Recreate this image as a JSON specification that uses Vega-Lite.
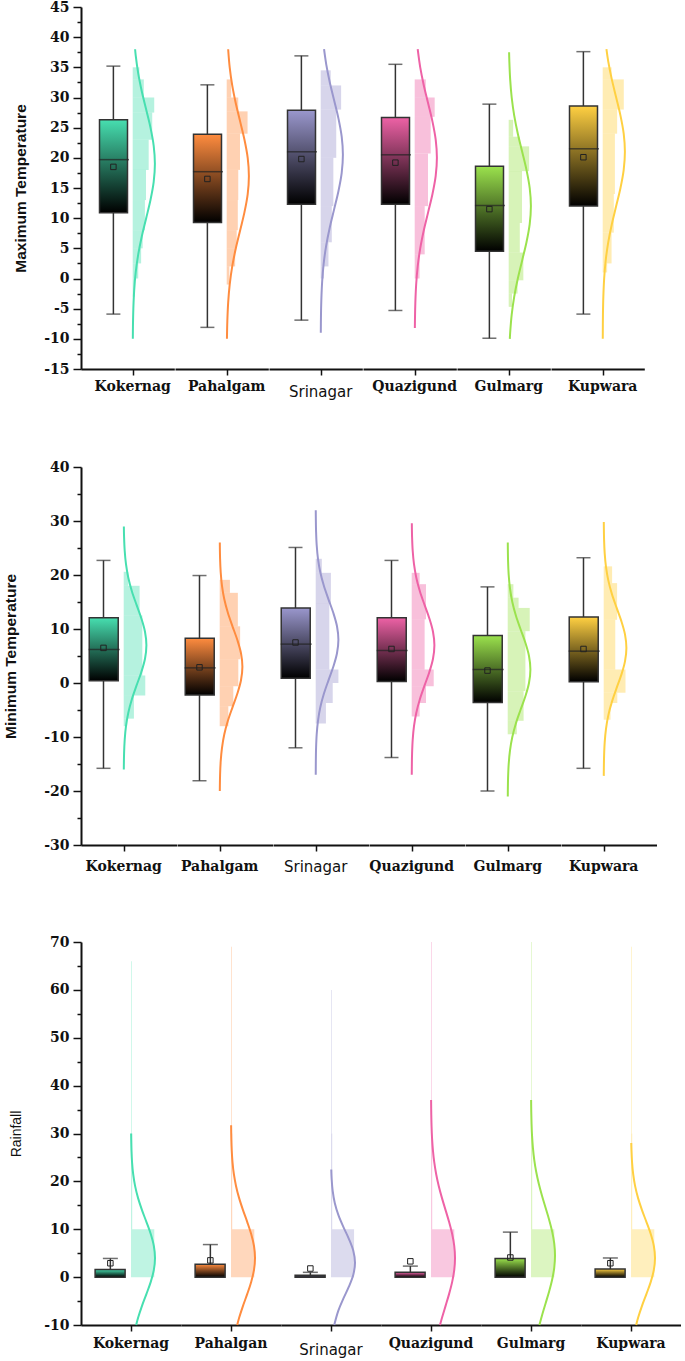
{
"$schema": "https://vega.github.io/schema/vega-lite/v6.json",
"padding": {"left": 3, "top": 0, "right": 0, "bottom": 0},
"background": "white",
"config": {
  "view": {"stroke": null},
  "axis": {"grid": false, "domainColor": "#111111", "domainWidth": 2, "tickColor": "#111111", "tickWidth": 1.5, "labelFont": "DejaVu Serif", "labelFontWeight": "bold", "labelFontSize": 14, "labelColor": "#111111", "titleColor": "#111111", "titleFont": "Liberation Sans", "titleFontWeight": "bold", "titleFontSize": 15.5, "labelPadding": 4, "tickSize": 8, "labelOverlap": false}
},
"datasets": {
"p1": [
{"station":"Kokernag","kind":"box","label":"Kokernag","lo":-5.9,"q1":10.9,"med":19.7,"q3":26.3,"hi":35.2,"mean":18.5},
{"station":"Pahalgam","kind":"box","label":"Pahalgam","lo":-8.1,"q1":9.3,"med":17.7,"q3":23.9,"hi":32.1,"mean":16.5},
{"station":"Srinagar","kind":"box","label":"Srinagar","lo":-6.9,"q1":12.3,"med":21.0,"q3":27.9,"hi":36.9,"mean":19.8},
{"station":"Quazigund","kind":"box","label":"Quazigund","lo":-5.3,"q1":12.3,"med":20.5,"q3":26.7,"hi":35.5,"mean":19.2},
{"station":"Gulmarg","kind":"box","label":"Gulmarg","lo":-9.9,"q1":4.5,"med":12.1,"q3":18.6,"hi":28.9,"mean":11.5},
{"station":"Kupwara","kind":"box","label":"Kupwara","lo":-5.9,"q1":12.0,"med":21.5,"q3":28.6,"hi":37.6,"mean":20.1},
{"station":"Kokernag","kind":"bin","y0":-3,"y1":0,"w":0.1},
{"station":"Kokernag","kind":"bin","y0":0,"y1":2.5,"w":0.25},
{"station":"Kokernag","kind":"bin","y0":2.5,"y1":5,"w":0.38},
{"station":"Kokernag","kind":"bin","y0":5,"y1":8,"w":0.45},
{"station":"Kokernag","kind":"bin","y0":8,"y1":13,"w":0.55},
{"station":"Kokernag","kind":"bin","y0":13,"y1":18,"w":0.6},
{"station":"Kokernag","kind":"bin","y0":18,"y1":23,"w":0.72},
{"station":"Kokernag","kind":"bin","y0":23,"y1":27.5,"w":0.88},
{"station":"Kokernag","kind":"bin","y0":27.5,"y1":30,"w":0.97},
{"station":"Kokernag","kind":"bin","y0":30,"y1":33,"w":0.5},
{"station":"Kokernag","kind":"bin","y0":33,"y1":35,"w":0.3},
{"station":"Pahalgam","kind":"bin","y0":-1,"y1":2,"w":0.12},
{"station":"Pahalgam","kind":"bin","y0":2,"y1":5,"w":0.38},
{"station":"Pahalgam","kind":"bin","y0":5,"y1":8,"w":0.45},
{"station":"Pahalgam","kind":"bin","y0":8,"y1":13,"w":0.5},
{"station":"Pahalgam","kind":"bin","y0":13,"y1":18,"w":0.52},
{"station":"Pahalgam","kind":"bin","y0":18,"y1":24,"w":0.6},
{"station":"Pahalgam","kind":"bin","y0":24,"y1":27.7,"w":0.94},
{"station":"Pahalgam","kind":"bin","y0":27.7,"y1":30,"w":0.52},
{"station":"Pahalgam","kind":"bin","y0":30,"y1":33,"w":0.2},
{"station":"Srinagar","kind":"bin","y0":0,"y1":2,"w":0.15},
{"station":"Srinagar","kind":"bin","y0":2,"y1":6,"w":0.35},
{"station":"Srinagar","kind":"bin","y0":6,"y1":12,"w":0.5},
{"station":"Srinagar","kind":"bin","y0":12,"y1":20,"w":0.57},
{"station":"Srinagar","kind":"bin","y0":20,"y1":28,"w":0.7},
{"station":"Srinagar","kind":"bin","y0":28,"y1":32,"w":0.92},
{"station":"Srinagar","kind":"bin","y0":32,"y1":34.5,"w":0.45},
{"station":"Quazigund","kind":"bin","y0":0,"y1":4,"w":0.22},
{"station":"Quazigund","kind":"bin","y0":4,"y1":12,"w":0.45},
{"station":"Quazigund","kind":"bin","y0":12,"y1":20.7,"w":0.6},
{"station":"Quazigund","kind":"bin","y0":20.7,"y1":26.8,"w":0.72},
{"station":"Quazigund","kind":"bin","y0":26.8,"y1":30,"w":0.9},
{"station":"Quazigund","kind":"bin","y0":30,"y1":33,"w":0.5},
{"station":"Gulmarg","kind":"bin","y0":-4.7,"y1":-2.5,"w":0.15},
{"station":"Gulmarg","kind":"bin","y0":-2.5,"y1":-0.3,"w":0.4},
{"station":"Gulmarg","kind":"bin","y0":-0.3,"y1":4.3,"w":0.66},
{"station":"Gulmarg","kind":"bin","y0":4.3,"y1":9.2,"w":0.5},
{"station":"Gulmarg","kind":"bin","y0":9.2,"y1":17.8,"w":0.6},
{"station":"Gulmarg","kind":"bin","y0":17.8,"y1":21.9,"w":0.92},
{"station":"Gulmarg","kind":"bin","y0":21.9,"y1":23.5,"w":0.5},
{"station":"Gulmarg","kind":"bin","y0":23.5,"y1":26.3,"w":0.2},
{"station":"Kupwara","kind":"bin","y0":1,"y1":2.5,"w":0.2},
{"station":"Kupwara","kind":"bin","y0":2.5,"y1":7.6,"w":0.4},
{"station":"Kupwara","kind":"bin","y0":7.6,"y1":14,"w":0.5},
{"station":"Kupwara","kind":"bin","y0":14,"y1":24,"w":0.55},
{"station":"Kupwara","kind":"bin","y0":24,"y1":28,"w":0.65},
{"station":"Kupwara","kind":"bin","y0":28,"y1":33,"w":0.95},
{"station":"Kupwara","kind":"bin","y0":33,"y1":35,"w":0.4},
{"station":"Kokernag","kind":"curve","v":38,"d":0.108},
{"station":"Kokernag","kind":"curve","v":37,"d":0.135},
{"station":"Kokernag","kind":"curve","v":34,"d":0.249},
{"station":"Kokernag","kind":"curve","v":31,"d":0.411},
{"station":"Kokernag","kind":"curve","v":28,"d":0.607},
{"station":"Kokernag","kind":"curve","v":25,"d":0.801},
{"station":"Kokernag","kind":"curve","v":22,"d":0.946},
{"station":"Kokernag","kind":"curve","v":19,"d":1},
{"station":"Kokernag","kind":"curve","v":16,"d":0.946},
{"station":"Kokernag","kind":"curve","v":13,"d":0.801},
{"station":"Kokernag","kind":"curve","v":10,"d":0.607},
{"station":"Kokernag","kind":"curve","v":7,"d":0.411},
{"station":"Kokernag","kind":"curve","v":4,"d":0.249},
{"station":"Kokernag","kind":"curve","v":1,"d":0.135},
{"station":"Kokernag","kind":"curve","v":-2,"d":0.066},
{"station":"Kokernag","kind":"curve","v":-5,"d":0.029},
{"station":"Kokernag","kind":"curve","v":-8,"d":0.011},
{"station":"Kokernag","kind":"curve","v":-10,"d":0.006},
{"station":"Pahalgam","kind":"curve","v":38,"d":0.066},
{"station":"Pahalgam","kind":"curve","v":35,"d":0.135},
{"station":"Pahalgam","kind":"curve","v":32,"d":0.249},
{"station":"Pahalgam","kind":"curve","v":29,"d":0.411},
{"station":"Pahalgam","kind":"curve","v":26,"d":0.607},
{"station":"Pahalgam","kind":"curve","v":23,"d":0.801},
{"station":"Pahalgam","kind":"curve","v":20,"d":0.946},
{"station":"Pahalgam","kind":"curve","v":17,"d":1},
{"station":"Pahalgam","kind":"curve","v":14,"d":0.946},
{"station":"Pahalgam","kind":"curve","v":11,"d":0.801},
{"station":"Pahalgam","kind":"curve","v":8,"d":0.607},
{"station":"Pahalgam","kind":"curve","v":5,"d":0.411},
{"station":"Pahalgam","kind":"curve","v":2,"d":0.249},
{"station":"Pahalgam","kind":"curve","v":-1,"d":0.135},
{"station":"Pahalgam","kind":"curve","v":-4,"d":0.066},
{"station":"Pahalgam","kind":"curve","v":-7,"d":0.029},
{"station":"Pahalgam","kind":"curve","v":-10,"d":0.011},
{"station":"Srinagar","kind":"curve","v":38,"d":0.151},
{"station":"Srinagar","kind":"curve","v":35.5,"d":0.249},
{"station":"Srinagar","kind":"curve","v":32.5,"d":0.411},
{"station":"Srinagar","kind":"curve","v":29.5,"d":0.607},
{"station":"Srinagar","kind":"curve","v":26.5,"d":0.801},
{"station":"Srinagar","kind":"curve","v":23.5,"d":0.946},
{"station":"Srinagar","kind":"curve","v":20.5,"d":1},
{"station":"Srinagar","kind":"curve","v":17.5,"d":0.946},
{"station":"Srinagar","kind":"curve","v":14.5,"d":0.801},
{"station":"Srinagar","kind":"curve","v":11.5,"d":0.607},
{"station":"Srinagar","kind":"curve","v":8.5,"d":0.411},
{"station":"Srinagar","kind":"curve","v":5.5,"d":0.249},
{"station":"Srinagar","kind":"curve","v":2.5,"d":0.135},
{"station":"Srinagar","kind":"curve","v":-0.5,"d":0.066},
{"station":"Srinagar","kind":"curve","v":-3.5,"d":0.029},
{"station":"Srinagar","kind":"curve","v":-6.5,"d":0.011},
{"station":"Srinagar","kind":"curve","v":-9,"d":0.005},
{"station":"Quazigund","kind":"curve","v":38,"d":0.135},
{"station":"Quazigund","kind":"curve","v":35,"d":0.249},
{"station":"Quazigund","kind":"curve","v":32,"d":0.411},
{"station":"Quazigund","kind":"curve","v":29,"d":0.607},
{"station":"Quazigund","kind":"curve","v":26,"d":0.801},
{"station":"Quazigund","kind":"curve","v":23,"d":0.946},
{"station":"Quazigund","kind":"curve","v":20,"d":1},
{"station":"Quazigund","kind":"curve","v":17,"d":0.946},
{"station":"Quazigund","kind":"curve","v":14,"d":0.801},
{"station":"Quazigund","kind":"curve","v":11,"d":0.607},
{"station":"Quazigund","kind":"curve","v":8,"d":0.411},
{"station":"Quazigund","kind":"curve","v":5,"d":0.249},
{"station":"Quazigund","kind":"curve","v":2,"d":0.135},
{"station":"Quazigund","kind":"curve","v":-1,"d":0.066},
{"station":"Quazigund","kind":"curve","v":-4,"d":0.029},
{"station":"Quazigund","kind":"curve","v":-7,"d":0.011},
{"station":"Quazigund","kind":"curve","v":-8.2,"d":0.007},
{"station":"Gulmarg","kind":"curve","v":37.5,"d":0.018},
{"station":"Gulmarg","kind":"curve","v":36,"d":0.029},
{"station":"Gulmarg","kind":"curve","v":33,"d":0.066},
{"station":"Gulmarg","kind":"curve","v":30,"d":0.135},
{"station":"Gulmarg","kind":"curve","v":27,"d":0.249},
{"station":"Gulmarg","kind":"curve","v":24,"d":0.411},
{"station":"Gulmarg","kind":"curve","v":21,"d":0.607},
{"station":"Gulmarg","kind":"curve","v":18,"d":0.801},
{"station":"Gulmarg","kind":"curve","v":15,"d":0.946},
{"station":"Gulmarg","kind":"curve","v":12,"d":1},
{"station":"Gulmarg","kind":"curve","v":9,"d":0.946},
{"station":"Gulmarg","kind":"curve","v":6,"d":0.801},
{"station":"Gulmarg","kind":"curve","v":3,"d":0.607},
{"station":"Gulmarg","kind":"curve","v":0,"d":0.411},
{"station":"Gulmarg","kind":"curve","v":-3,"d":0.249},
{"station":"Gulmarg","kind":"curve","v":-6,"d":0.135},
{"station":"Gulmarg","kind":"curve","v":-9,"d":0.066},
{"station":"Gulmarg","kind":"curve","v":-10,"d":0.05},
{"station":"Kupwara","kind":"curve","v":38,"d":0.168},
{"station":"Kupwara","kind":"curve","v":36,"d":0.249},
{"station":"Kupwara","kind":"curve","v":33,"d":0.411},
{"station":"Kupwara","kind":"curve","v":30,"d":0.607},
{"station":"Kupwara","kind":"curve","v":27,"d":0.801},
{"station":"Kupwara","kind":"curve","v":24,"d":0.946},
{"station":"Kupwara","kind":"curve","v":21,"d":1},
{"station":"Kupwara","kind":"curve","v":18,"d":0.946},
{"station":"Kupwara","kind":"curve","v":15,"d":0.801},
{"station":"Kupwara","kind":"curve","v":12,"d":0.607},
{"station":"Kupwara","kind":"curve","v":9,"d":0.411},
{"station":"Kupwara","kind":"curve","v":6,"d":0.249},
{"station":"Kupwara","kind":"curve","v":3,"d":0.135},
{"station":"Kupwara","kind":"curve","v":0,"d":0.066},
{"station":"Kupwara","kind":"curve","v":-3,"d":0.029},
{"station":"Kupwara","kind":"curve","v":-6,"d":0.011},
{"station":"Kupwara","kind":"curve","v":-10,"d":0.003}
],
"p2": [
{"station":"Kokernag","kind":"box","label":"Kokernag","lo":-15.8,"q1":0.4,"med":6.2,"q3":12.1,"hi":22.7,"mean":6.5},
{"station":"Pahalgam","kind":"box","label":"Pahalgam","lo":-18.1,"q1":-2.2,"med":2.8,"q3":8.3,"hi":19.9,"mean":2.9},
{"station":"Srinagar","kind":"box","label":"Srinagar","lo":-12,"q1":0.9,"med":7.2,"q3":13.9,"hi":25.1,"mean":7.5},
{"station":"Quazigund","kind":"box","label":"Quazigund","lo":-13.8,"q1":0.3,"med":6.0,"q3":12.1,"hi":22.7,"mean":6.3},
{"station":"Gulmarg","kind":"box","label":"Gulmarg","lo":-20,"q1":-3.6,"med":2.5,"q3":8.8,"hi":17.8,"mean":2.3},
{"station":"Kupwara","kind":"box","label":"Kupwara","lo":-15.8,"q1":0.25,"med":5.9,"q3":12.2,"hi":23.2,"mean":6.3},
{"station":"Kokernag","kind":"bin","y0":-8,"y1":-6.6,"w":0.15},
{"station":"Kokernag","kind":"bin","y0":-6.6,"y1":-2.3,"w":0.45},
{"station":"Kokernag","kind":"bin","y0":-2.3,"y1":1.4,"w":0.95},
{"station":"Kokernag","kind":"bin","y0":1.4,"y1":12.5,"w":0.82},
{"station":"Kokernag","kind":"bin","y0":12.5,"y1":18,"w":0.7},
{"station":"Kokernag","kind":"bin","y0":18,"y1":20.6,"w":0.2},
{"station":"Pahalgam","kind":"bin","y0":-8,"y1":-4.3,"w":0.38},
{"station":"Pahalgam","kind":"bin","y0":-4.3,"y1":-0.6,"w":0.6},
{"station":"Pahalgam","kind":"bin","y0":-0.6,"y1":4.4,"w":0.82},
{"station":"Pahalgam","kind":"bin","y0":4.4,"y1":10.5,"w":0.9},
{"station":"Pahalgam","kind":"bin","y0":10.5,"y1":16.7,"w":0.8},
{"station":"Pahalgam","kind":"bin","y0":16.7,"y1":19.1,"w":0.45},
{"station":"Srinagar","kind":"bin","y0":-7.5,"y1":-3.7,"w":0.45},
{"station":"Srinagar","kind":"bin","y0":-3.7,"y1":0,"w":0.75},
{"station":"Srinagar","kind":"bin","y0":0,"y1":2.5,"w":1.0},
{"station":"Srinagar","kind":"bin","y0":2.5,"y1":14.8,"w":0.6},
{"station":"Srinagar","kind":"bin","y0":14.8,"y1":20.4,"w":0.67},
{"station":"Srinagar","kind":"bin","y0":20.4,"y1":23,"w":0.27},
{"station":"Quazigund","kind":"bin","y0":-6.2,"y1":-3.7,"w":0.35},
{"station":"Quazigund","kind":"bin","y0":-3.7,"y1":-0.6,"w":0.63},
{"station":"Quazigund","kind":"bin","y0":-0.6,"y1":2.5,"w":0.97},
{"station":"Quazigund","kind":"bin","y0":2.5,"y1":11.8,"w":0.57},
{"station":"Quazigund","kind":"bin","y0":11.8,"y1":18.3,"w":0.63},
{"station":"Quazigund","kind":"bin","y0":18.3,"y1":20.4,"w":0.35},
{"station":"Gulmarg","kind":"bin","y0":-9.5,"y1":-7,"w":0.4},
{"station":"Gulmarg","kind":"bin","y0":-7,"y1":-1.5,"w":0.7},
{"station":"Gulmarg","kind":"bin","y0":-1.5,"y1":9.6,"w":0.78},
{"station":"Gulmarg","kind":"bin","y0":9.6,"y1":13.9,"w":0.97},
{"station":"Gulmarg","kind":"bin","y0":13.9,"y1":15.8,"w":0.48},
{"station":"Gulmarg","kind":"bin","y0":15.8,"y1":18.3,"w":0.25},
{"station":"Kupwara","kind":"bin","y0":-6.8,"y1":-3.7,"w":0.3},
{"station":"Kupwara","kind":"bin","y0":-3.7,"y1":-1.8,"w":0.6},
{"station":"Kupwara","kind":"bin","y0":-1.8,"y1":2.5,"w":0.96},
{"station":"Kupwara","kind":"bin","y0":2.5,"y1":11.7,"w":0.51},
{"station":"Kupwara","kind":"bin","y0":11.7,"y1":18.5,"w":0.59},
{"station":"Kupwara","kind":"bin","y0":18.5,"y1":21.6,"w":0.37},
{"station":"Kokernag","kind":"curve","v":29,"d":0.007},
{"station":"Kokernag","kind":"curve","v":27,"d":0.017},
{"station":"Kokernag","kind":"curve","v":24.5,"d":0.044},
{"station":"Kokernag","kind":"curve","v":22,"d":0.101},
{"station":"Kokernag","kind":"curve","v":19.5,"d":0.203},
{"station":"Kokernag","kind":"curve","v":17,"d":0.36},
{"station":"Kokernag","kind":"curve","v":14.5,"d":0.563},
{"station":"Kokernag","kind":"curve","v":12,"d":0.775},
{"station":"Kokernag","kind":"curve","v":9.5,"d":0.938},
{"station":"Kokernag","kind":"curve","v":7,"d":1},
{"station":"Kokernag","kind":"curve","v":4.5,"d":0.938},
{"station":"Kokernag","kind":"curve","v":2,"d":0.775},
{"station":"Kokernag","kind":"curve","v":-0.5,"d":0.563},
{"station":"Kokernag","kind":"curve","v":-3,"d":0.36},
{"station":"Kokernag","kind":"curve","v":-5.5,"d":0.203},
{"station":"Kokernag","kind":"curve","v":-8,"d":0.101},
{"station":"Kokernag","kind":"curve","v":-10.5,"d":0.044},
{"station":"Kokernag","kind":"curve","v":-13,"d":0.017},
{"station":"Kokernag","kind":"curve","v":-16,"d":0.005},
{"station":"Pahalgam","kind":"curve","v":26,"d":0.005},
{"station":"Pahalgam","kind":"curve","v":23,"d":0.017},
{"station":"Pahalgam","kind":"curve","v":20.5,"d":0.044},
{"station":"Pahalgam","kind":"curve","v":18,"d":0.101},
{"station":"Pahalgam","kind":"curve","v":15.5,"d":0.203},
{"station":"Pahalgam","kind":"curve","v":13,"d":0.36},
{"station":"Pahalgam","kind":"curve","v":10.5,"d":0.563},
{"station":"Pahalgam","kind":"curve","v":8,"d":0.775},
{"station":"Pahalgam","kind":"curve","v":5.5,"d":0.938},
{"station":"Pahalgam","kind":"curve","v":3,"d":1},
{"station":"Pahalgam","kind":"curve","v":0.5,"d":0.938},
{"station":"Pahalgam","kind":"curve","v":-2,"d":0.775},
{"station":"Pahalgam","kind":"curve","v":-4.5,"d":0.563},
{"station":"Pahalgam","kind":"curve","v":-7,"d":0.36},
{"station":"Pahalgam","kind":"curve","v":-9.5,"d":0.203},
{"station":"Pahalgam","kind":"curve","v":-12,"d":0.101},
{"station":"Pahalgam","kind":"curve","v":-14.5,"d":0.044},
{"station":"Pahalgam","kind":"curve","v":-17,"d":0.017},
{"station":"Pahalgam","kind":"curve","v":-20,"d":0.005},
{"station":"Srinagar","kind":"curve","v":32,"d":0.003},
{"station":"Srinagar","kind":"curve","v":30.5,"d":0.006},
{"station":"Srinagar","kind":"curve","v":28,"d":0.017},
{"station":"Srinagar","kind":"curve","v":25.5,"d":0.044},
{"station":"Srinagar","kind":"curve","v":23,"d":0.101},
{"station":"Srinagar","kind":"curve","v":20.5,"d":0.203},
{"station":"Srinagar","kind":"curve","v":18,"d":0.36},
{"station":"Srinagar","kind":"curve","v":15.5,"d":0.563},
{"station":"Srinagar","kind":"curve","v":13,"d":0.775},
{"station":"Srinagar","kind":"curve","v":10.5,"d":0.938},
{"station":"Srinagar","kind":"curve","v":8,"d":1},
{"station":"Srinagar","kind":"curve","v":5.5,"d":0.938},
{"station":"Srinagar","kind":"curve","v":3,"d":0.775},
{"station":"Srinagar","kind":"curve","v":0.5,"d":0.563},
{"station":"Srinagar","kind":"curve","v":-2,"d":0.36},
{"station":"Srinagar","kind":"curve","v":-4.5,"d":0.203},
{"station":"Srinagar","kind":"curve","v":-7,"d":0.101},
{"station":"Srinagar","kind":"curve","v":-9.5,"d":0.044},
{"station":"Srinagar","kind":"curve","v":-12,"d":0.017},
{"station":"Srinagar","kind":"curve","v":-14.5,"d":0.006},
{"station":"Srinagar","kind":"curve","v":-17,"d":0.002},
{"station":"Quazigund","kind":"curve","v":29.6,"d":0.006},
{"station":"Quazigund","kind":"curve","v":27,"d":0.017},
{"station":"Quazigund","kind":"curve","v":24.5,"d":0.044},
{"station":"Quazigund","kind":"curve","v":22,"d":0.101},
{"station":"Quazigund","kind":"curve","v":19.5,"d":0.203},
{"station":"Quazigund","kind":"curve","v":17,"d":0.36},
{"station":"Quazigund","kind":"curve","v":14.5,"d":0.563},
{"station":"Quazigund","kind":"curve","v":12,"d":0.775},
{"station":"Quazigund","kind":"curve","v":9.5,"d":0.938},
{"station":"Quazigund","kind":"curve","v":7,"d":1},
{"station":"Quazigund","kind":"curve","v":4.5,"d":0.938},
{"station":"Quazigund","kind":"curve","v":2,"d":0.775},
{"station":"Quazigund","kind":"curve","v":-0.5,"d":0.563},
{"station":"Quazigund","kind":"curve","v":-3,"d":0.36},
{"station":"Quazigund","kind":"curve","v":-5.5,"d":0.203},
{"station":"Quazigund","kind":"curve","v":-8,"d":0.101},
{"station":"Quazigund","kind":"curve","v":-10.5,"d":0.044},
{"station":"Quazigund","kind":"curve","v":-13,"d":0.017},
{"station":"Quazigund","kind":"curve","v":-15.5,"d":0.006},
{"station":"Quazigund","kind":"curve","v":-17,"d":0.003},
{"station":"Gulmarg","kind":"curve","v":26,"d":0.004},
{"station":"Gulmarg","kind":"curve","v":25,"d":0.006},
{"station":"Gulmarg","kind":"curve","v":22.5,"d":0.017},
{"station":"Gulmarg","kind":"curve","v":20,"d":0.044},
{"station":"Gulmarg","kind":"curve","v":17.5,"d":0.101},
{"station":"Gulmarg","kind":"curve","v":15,"d":0.203},
{"station":"Gulmarg","kind":"curve","v":12.5,"d":0.36},
{"station":"Gulmarg","kind":"curve","v":10,"d":0.563},
{"station":"Gulmarg","kind":"curve","v":7.5,"d":0.775},
{"station":"Gulmarg","kind":"curve","v":5,"d":0.938},
{"station":"Gulmarg","kind":"curve","v":2.5,"d":1},
{"station":"Gulmarg","kind":"curve","v":0,"d":0.938},
{"station":"Gulmarg","kind":"curve","v":-2.5,"d":0.775},
{"station":"Gulmarg","kind":"curve","v":-5,"d":0.563},
{"station":"Gulmarg","kind":"curve","v":-7.5,"d":0.36},
{"station":"Gulmarg","kind":"curve","v":-10,"d":0.203},
{"station":"Gulmarg","kind":"curve","v":-12.5,"d":0.101},
{"station":"Gulmarg","kind":"curve","v":-15,"d":0.044},
{"station":"Gulmarg","kind":"curve","v":-17.5,"d":0.017},
{"station":"Gulmarg","kind":"curve","v":-20,"d":0.006},
{"station":"Gulmarg","kind":"curve","v":-21,"d":0.004},
{"station":"Kupwara","kind":"curve","v":29.8,"d":0.004},
{"station":"Kupwara","kind":"curve","v":26.5,"d":0.017},
{"station":"Kupwara","kind":"curve","v":24,"d":0.044},
{"station":"Kupwara","kind":"curve","v":21.5,"d":0.101},
{"station":"Kupwara","kind":"curve","v":19,"d":0.203},
{"station":"Kupwara","kind":"curve","v":16.5,"d":0.36},
{"station":"Kupwara","kind":"curve","v":14,"d":0.563},
{"station":"Kupwara","kind":"curve","v":11.5,"d":0.775},
{"station":"Kupwara","kind":"curve","v":9,"d":0.938},
{"station":"Kupwara","kind":"curve","v":6.5,"d":1},
{"station":"Kupwara","kind":"curve","v":4,"d":0.938},
{"station":"Kupwara","kind":"curve","v":1.5,"d":0.775},
{"station":"Kupwara","kind":"curve","v":-1,"d":0.563},
{"station":"Kupwara","kind":"curve","v":-3.5,"d":0.36},
{"station":"Kupwara","kind":"curve","v":-6,"d":0.203},
{"station":"Kupwara","kind":"curve","v":-8.5,"d":0.101},
{"station":"Kupwara","kind":"curve","v":-11,"d":0.044},
{"station":"Kupwara","kind":"curve","v":-13.5,"d":0.017},
{"station":"Kupwara","kind":"curve","v":-16,"d":0.006},
{"station":"Kupwara","kind":"curve","v":-17.2,"d":0.003}
],
"p3": [
{"station":"Kokernag","kind":"box","label":"Kokernag","lo":0,"q1":0,"med":0,"q3":1.6,"hi":3.9,"mean":2.9},
{"station":"Pahalgam","kind":"box","label":"Pahalgan","lo":0,"q1":0,"med":0,"q3":2.7,"hi":6.8,"mean":3.5},
{"station":"Srinagar","kind":"box","label":"Srinagar","lo":0,"q1":0,"med":0,"q3":0.4,"hi":1.0,"mean":1.8},
{"station":"Quazigund","kind":"box","label":"Quazigund","lo":0,"q1":0,"med":0,"q3":1.0,"hi":2.3,"mean":3.3},
{"station":"Gulmarg","kind":"box","label":"Gulmarg","lo":0,"q1":0,"med":0,"q3":3.9,"hi":9.4,"mean":4.1},
{"station":"Kupwara","kind":"box","label":"Kupwara","lo":0,"q1":0,"med":0,"q3":1.7,"hi":4.0,"mean":2.9},
{"station":"Kokernag","kind":"bin","y0":0,"y1":10,"w":0.97},
{"station":"Kokernag","kind":"bin","y0":10,"y1":30,"w":0.05},
{"station":"Kokernag","kind":"bin","y0":30,"y1":66,"w":0.03},
{"station":"Pahalgam","kind":"bin","y0":0,"y1":10,"w":0.97},
{"station":"Pahalgam","kind":"bin","y0":10,"y1":30,"w":0.05},
{"station":"Pahalgam","kind":"bin","y0":30,"y1":69,"w":0.03},
{"station":"Srinagar","kind":"bin","y0":0,"y1":10,"w":0.96},
{"station":"Srinagar","kind":"bin","y0":10,"y1":30,"w":0.05},
{"station":"Srinagar","kind":"bin","y0":30,"y1":60,"w":0.03},
{"station":"Quazigund","kind":"bin","y0":0,"y1":10,"w":0.97},
{"station":"Quazigund","kind":"bin","y0":10,"y1":30,"w":0.05},
{"station":"Quazigund","kind":"bin","y0":30,"y1":70,"w":0.03},
{"station":"Gulmarg","kind":"bin","y0":0,"y1":10,"w":0.97},
{"station":"Gulmarg","kind":"bin","y0":10,"y1":30,"w":0.05},
{"station":"Gulmarg","kind":"bin","y0":30,"y1":70,"w":0.03},
{"station":"Kupwara","kind":"bin","y0":0,"y1":10,"w":0.97},
{"station":"Kupwara","kind":"bin","y0":10,"y1":30,"w":0.05},
{"station":"Kupwara","kind":"bin","y0":30,"y1":69,"w":0.03},
{"station":"Kokernag","kind":"curve","v":30,"d":0.005},
{"station":"Kokernag","kind":"curve","v":29,"d":0.008},
{"station":"Kokernag","kind":"curve","v":26.5,"d":0.019},
{"station":"Kokernag","kind":"curve","v":24,"d":0.044},
{"station":"Kokernag","kind":"curve","v":21.5,"d":0.091},
{"station":"Kokernag","kind":"curve","v":19,"d":0.172},
{"station":"Kokernag","kind":"curve","v":16.5,"d":0.295},
{"station":"Kokernag","kind":"curve","v":14,"d":0.458},
{"station":"Kokernag","kind":"curve","v":11.5,"d":0.645},
{"station":"Kokernag","kind":"curve","v":9,"d":0.823},
{"station":"Kokernag","kind":"curve","v":6.5,"d":0.952},
{"station":"Kokernag","kind":"curve","v":4,"d":1},
{"station":"Kokernag","kind":"curve","v":1.5,"d":0.952},
{"station":"Kokernag","kind":"curve","v":-1,"d":0.823},
{"station":"Kokernag","kind":"curve","v":-3.5,"d":0.645},
{"station":"Kokernag","kind":"curve","v":-6,"d":0.458},
{"station":"Kokernag","kind":"curve","v":-8.5,"d":0.295},
{"station":"Kokernag","kind":"curve","v":-10,"d":0.216},
{"station":"Pahalgam","kind":"curve","v":31.7,"d":0.005},
{"station":"Pahalgam","kind":"curve","v":29,"d":0.013},
{"station":"Pahalgam","kind":"curve","v":26.5,"d":0.03},
{"station":"Pahalgam","kind":"curve","v":24,"d":0.063},
{"station":"Pahalgam","kind":"curve","v":21.5,"d":0.12},
{"station":"Pahalgam","kind":"curve","v":19,"d":0.211},
{"station":"Pahalgam","kind":"curve","v":16.5,"d":0.339},
{"station":"Pahalgam","kind":"curve","v":14,"d":0.5},
{"station":"Pahalgam","kind":"curve","v":11.5,"d":0.678},
{"station":"Pahalgam","kind":"curve","v":9,"d":0.841},
{"station":"Pahalgam","kind":"curve","v":6.5,"d":0.958},
{"station":"Pahalgam","kind":"curve","v":4,"d":1},
{"station":"Pahalgam","kind":"curve","v":1.5,"d":0.958},
{"station":"Pahalgam","kind":"curve","v":-1,"d":0.841},
{"station":"Pahalgam","kind":"curve","v":-3.5,"d":0.678},
{"station":"Pahalgam","kind":"curve","v":-6,"d":0.5},
{"station":"Pahalgam","kind":"curve","v":-8.5,"d":0.339},
{"station":"Pahalgam","kind":"curve","v":-10,"d":0.258},
{"station":"Srinagar","kind":"curve","v":22.5,"d":0.011},
{"station":"Srinagar","kind":"curve","v":20.5,"d":0.027},
{"station":"Srinagar","kind":"curve","v":18,"d":0.07},
{"station":"Srinagar","kind":"curve","v":15.5,"d":0.157},
{"station":"Srinagar","kind":"curve","v":13,"d":0.306},
{"station":"Srinagar","kind":"curve","v":10.5,"d":0.514},
{"station":"Srinagar","kind":"curve","v":8,"d":0.744},
{"station":"Srinagar","kind":"curve","v":5.5,"d":0.929},
{"station":"Srinagar","kind":"curve","v":3,"d":1},
{"station":"Srinagar","kind":"curve","v":0.5,"d":0.929},
{"station":"Srinagar","kind":"curve","v":-2,"d":0.744},
{"station":"Srinagar","kind":"curve","v":-4.5,"d":0.514},
{"station":"Srinagar","kind":"curve","v":-7,"d":0.306},
{"station":"Srinagar","kind":"curve","v":-10,"d":0.135},
{"station":"Quazigund","kind":"curve","v":37,"d":0.004},
{"station":"Quazigund","kind":"curve","v":34,"d":0.011},
{"station":"Quazigund","kind":"curve","v":31.5,"d":0.023},
{"station":"Quazigund","kind":"curve","v":29,"d":0.044},
{"station":"Quazigund","kind":"curve","v":26.5,"d":0.08},
{"station":"Quazigund","kind":"curve","v":24,"d":0.135},
{"station":"Quazigund","kind":"curve","v":21.5,"d":0.216},
{"station":"Quazigund","kind":"curve","v":19,"d":0.325},
{"station":"Quazigund","kind":"curve","v":16.5,"d":0.458},
{"station":"Quazigund","kind":"curve","v":14,"d":0.607},
{"station":"Quazigund","kind":"curve","v":11.5,"d":0.755},
{"station":"Quazigund","kind":"curve","v":9,"d":0.882},
{"station":"Quazigund","kind":"curve","v":6.5,"d":0.969},
{"station":"Quazigund","kind":"curve","v":4,"d":1},
{"station":"Quazigund","kind":"curve","v":1.5,"d":0.969},
{"station":"Quazigund","kind":"curve","v":-1,"d":0.882},
{"station":"Quazigund","kind":"curve","v":-3.5,"d":0.755},
{"station":"Quazigund","kind":"curve","v":-6,"d":0.607},
{"station":"Quazigund","kind":"curve","v":-8.5,"d":0.458},
{"station":"Quazigund","kind":"curve","v":-10,"d":0.375},
{"station":"Gulmarg","kind":"curve","v":37,"d":0.005},
{"station":"Gulmarg","kind":"curve","v":34.5,"d":0.011},
{"station":"Gulmarg","kind":"curve","v":32,"d":0.023},
{"station":"Gulmarg","kind":"curve","v":29.5,"d":0.044},
{"station":"Gulmarg","kind":"curve","v":27,"d":0.08},
{"station":"Gulmarg","kind":"curve","v":24.5,"d":0.135},
{"station":"Gulmarg","kind":"curve","v":22,"d":0.216},
{"station":"Gulmarg","kind":"curve","v":19.5,"d":0.325},
{"station":"Gulmarg","kind":"curve","v":17,"d":0.458},
{"station":"Gulmarg","kind":"curve","v":14.5,"d":0.607},
{"station":"Gulmarg","kind":"curve","v":12,"d":0.755},
{"station":"Gulmarg","kind":"curve","v":9.5,"d":0.882},
{"station":"Gulmarg","kind":"curve","v":7,"d":0.969},
{"station":"Gulmarg","kind":"curve","v":4.5,"d":1},
{"station":"Gulmarg","kind":"curve","v":2,"d":0.969},
{"station":"Gulmarg","kind":"curve","v":-0.5,"d":0.882},
{"station":"Gulmarg","kind":"curve","v":-3,"d":0.755},
{"station":"Gulmarg","kind":"curve","v":-5.5,"d":0.607},
{"station":"Gulmarg","kind":"curve","v":-8,"d":0.458},
{"station":"Gulmarg","kind":"curve","v":-10,"d":0.35},
{"station":"Kupwara","kind":"curve","v":28,"d":0.011},
{"station":"Kupwara","kind":"curve","v":26.5,"d":0.019},
{"station":"Kupwara","kind":"curve","v":24,"d":0.044},
{"station":"Kupwara","kind":"curve","v":21.5,"d":0.091},
{"station":"Kupwara","kind":"curve","v":19,"d":0.172},
{"station":"Kupwara","kind":"curve","v":16.5,"d":0.295},
{"station":"Kupwara","kind":"curve","v":14,"d":0.458},
{"station":"Kupwara","kind":"curve","v":11.5,"d":0.645},
{"station":"Kupwara","kind":"curve","v":9,"d":0.823},
{"station":"Kupwara","kind":"curve","v":6.5,"d":0.952},
{"station":"Kupwara","kind":"curve","v":4,"d":1},
{"station":"Kupwara","kind":"curve","v":1.5,"d":0.952},
{"station":"Kupwara","kind":"curve","v":-1,"d":0.823},
{"station":"Kupwara","kind":"curve","v":-3.5,"d":0.645},
{"station":"Kupwara","kind":"curve","v":-6,"d":0.458},
{"station":"Kupwara","kind":"curve","v":-8.5,"d":0.295},
{"station":"Kupwara","kind":"curve","v":-10,"d":0.216}
]
},
"vconcat": [
{
 "data": {"name": "p1"},
 "facet": {"column": {"field": "station", "type": "nominal", "sort": ["Kokernag","Pahalgam","Srinagar","Quazigund","Gulmarg","Kupwara"], "header": {"labels": false, "title": null}}},
 "spacing": 0,
 "bounds": "flush",
 "spec": {
  "width": 93.3, "height": 362,
  "layer": [
   {"transform": [{"filter": "datum.kind==='box'"}], "mark": {"type": "rule", "color": "#333333", "strokeWidth": 1.5},
    "encoding": {"x": {"datum": -0.87, "type": "quantitative", "scale": {"domain": [-2.329, 1.874], "nice": false, "zero": false, "padding": 0}, "axis": {"values": [0], "labels": false, "title": null, "tickSize": 6}},
     "y": {"field": "lo", "type": "quantitative", "scale": {"domain": [-15, 45], "nice": false, "zero": false, "padding": 0}, "axis": {"title": "Maximum Temperature", "titlePadding": 15, "labelOverlap": false, "tickCount": 100, "values": [-15,-12.5,-10,-7.5,-5,-2.5,0,2.5,5,7.5,10,12.5,15,17.5,20,22.5,25,27.5,30,32.5,35,37.5,40,42.5,45], "labelExpr": "datum.value % 5 === 0 ? '' + datum.value : ''", "labelFontSize": {"condition": {"test": "datum.value % 5 !== 0", "value": 0}, "value": 14}, "tickSize": {"condition": {"test": "datum.value % 5 !== 0", "value": 4}, "value": 8}}},
     "y2": {"field": "hi"}}},
   {"transform": [{"filter": "datum.kind==='box'"}], "mark": {"type": "tick", "orient": "horizontal", "color": "#333333", "size": 14, "thickness": 1.5},
    "encoding": {"x": {"datum": -0.87, "type": "quantitative"}, "y": {"field": "hi", "type": "quantitative"}}},
   {"transform": [{"filter": "datum.kind==='box'"}], "mark": {"type": "tick", "orient": "horizontal", "color": "#333333", "size": 14, "thickness": 1.5},
    "encoding": {"x": {"datum": -0.87, "type": "quantitative"}, "y": {"field": "lo", "type": "quantitative"}}},
   {"transform": [{"filter": "datum.kind==='box'"}], "mark": {"type": "rect", "stroke": "#333333", "strokeWidth": 1.5, "width": 28},
    "encoding": {"x": {"datum": -0.865, "type": "quantitative"}, "y": {"field": "q1", "type": "quantitative"}, "y2": {"field": "q3"},
     "fill": {"condition": [
      {"test": "datum.station==='Kokernag'", "value": {"gradient": "linear", "x1": 0, "y1": 0, "x2": 0, "y2": 1, "stops": [{"offset": 0, "color": "#47DFB0"}, {"offset": 1, "color": "#000000"}]}},
      {"test": "datum.station==='Pahalgam'", "value": {"gradient": "linear", "x1": 0, "y1": 0, "x2": 0, "y2": 1, "stops": [{"offset": 0, "color": "#FF8C3F"}, {"offset": 1, "color": "#000000"}]}},
      {"test": "datum.station==='Srinagar'", "value": {"gradient": "linear", "x1": 0, "y1": 0, "x2": 0, "y2": 1, "stops": [{"offset": 0, "color": "#9A97CD"}, {"offset": 1, "color": "#000000"}]}},
      {"test": "datum.station==='Quazigund'", "value": {"gradient": "linear", "x1": 0, "y1": 0, "x2": 0, "y2": 1, "stops": [{"offset": 0, "color": "#EE62A6"}, {"offset": 1, "color": "#000000"}]}},
      {"test": "datum.station==='Gulmarg'", "value": {"gradient": "linear", "x1": 0, "y1": 0, "x2": 0, "y2": 1, "stops": [{"offset": 0, "color": "#9BE24D"}, {"offset": 1, "color": "#000000"}]}}
     ], "value": {"gradient": "linear", "x1": 0, "y1": 0, "x2": 0, "y2": 1, "stops": [{"offset": 0, "color": "#FFD042"}, {"offset": 1, "color": "#000000"}]}}}},
   {"transform": [{"filter": "datum.kind==='box'"}], "mark": {"type": "tick", "orient": "horizontal", "color": "#222222", "size": 30, "thickness": 1.5},
    "encoding": {"x": {"datum": -0.845, "type": "quantitative"}, "y": {"field": "med", "type": "quantitative"}}},
   {"transform": [{"filter": "datum.kind==='box'"}], "mark": {"type": "point", "shape": "square", "filled": false, "color": "#222222", "strokeWidth": 1, "size": 30, "opacity": 1},
    "encoding": {"x": {"datum": -0.87, "type": "quantitative"}, "y": {"field": "mean", "type": "quantitative"}}},
   {"transform": [{"filter": "datum.kind==='bin'"}], "mark": {"type": "bar", "opacity": 0.4, "orient": "horizontal"},
    "encoding": {"x": {"field": "w", "type": "quantitative", "stack": null}, "y": {"field": "y0", "type": "quantitative"}, "y2": {"field": "y1"},
     "color": {"field": "station", "type": "nominal", "scale": {"domain": ["Kokernag","Pahalgam","Srinagar","Quazigund","Gulmarg","Kupwara"], "range": ["#47DFB0","#FF8C3F","#9A97CD","#EE62A6","#9BE24D","#FFD042"]}, "legend": null}}},
   {"transform": [{"filter": "datum.kind==='curve'"}], "mark": {"type": "line", "strokeWidth": 2, "interpolate": "catmull-rom"},
    "encoding": {"x": {"field": "d", "type": "quantitative"}, "y": {"field": "v", "type": "quantitative"}, "order": {"field": "v", "type": "quantitative"},
     "color": {"field": "station", "type": "nominal", "legend": null}}},
   {"transform": [{"filter": "datum.kind==='box' && datum.station!=='Srinagar'"}], "mark": {"type": "text", "font": "DejaVu Serif", "fontWeight": "bold", "fontSize": 14, "baseline": "alphabetic", "dy": 22, "color": "#111111"},
    "encoding": {"x": {"datum": 0, "type": "quantitative"}, "y": {"datum": -15, "type": "quantitative"}, "text": {"field": "label", "type": "nominal"}}},
   {"transform": [{"filter": "datum.kind==='box' && datum.station==='Srinagar'"}], "mark": {"type": "text", "font": "DejaVu Sans", "fontSize": 15, "baseline": "alphabetic", "dy": 28, "color": "#111111"},
    "encoding": {"x": {"datum": 0, "type": "quantitative"}, "y": {"datum": -15, "type": "quantitative"}, "text": {"field": "label", "type": "nominal"}}}
  ]
 }
},
{
 "data": {"name": "p2"},
 "facet": {"column": {"field": "station", "type": "nominal", "sort": ["Kokernag","Pahalgam","Srinagar","Quazigund","Gulmarg","Kupwara"], "header": {"labels": false, "title": null}}},
 "spacing": 0,
 "bounds": "flush",
 "spec": {
  "width": 95.5, "height": 378,
  "layer": [
   {"transform": [{"filter": "datum.kind==='box'"}], "mark": {"type": "rule", "color": "#333333", "strokeWidth": 1.5},
    "encoding": {"x": {"datum": -0.89, "type": "quantitative", "scale": {"domain": [-1.881, 2.326], "nice": false, "zero": false, "padding": 0}, "axis": {"values": [0], "labels": false, "title": null, "tickSize": 6}},
     "y": {"field": "lo", "type": "quantitative", "scale": {"domain": [-30, 40], "nice": false, "zero": false, "padding": 0}, "axis": {"title": "Minimum Temperature", "titlePadding": 25, "labelOverlap": false, "tickCount": 100, "values": [-30,-25,-20,-15,-10,-5,0,5,10,15,20,25,30,35,40], "labelExpr": "datum.value % 10 === 0 ? '' + datum.value : ''", "labelFontSize": {"condition": {"test": "datum.value % 10 !== 0", "value": 0}, "value": 14}, "tickSize": {"condition": {"test": "datum.value % 10 !== 0", "value": 4}, "value": 8}}},
     "y2": {"field": "hi"}}},
   {"transform": [{"filter": "datum.kind==='box'"}], "mark": {"type": "tick", "orient": "horizontal", "color": "#333333", "size": 14, "thickness": 1.5},
    "encoding": {"x": {"datum": -0.89, "type": "quantitative"}, "y": {"field": "hi", "type": "quantitative"}}},
   {"transform": [{"filter": "datum.kind==='box'"}], "mark": {"type": "tick", "orient": "horizontal", "color": "#333333", "size": 14, "thickness": 1.5},
    "encoding": {"x": {"datum": -0.89, "type": "quantitative"}, "y": {"field": "lo", "type": "quantitative"}}},
   {"transform": [{"filter": "datum.kind==='box'"}], "mark": {"type": "rect", "stroke": "#333333", "strokeWidth": 1.5, "width": 29},
    "encoding": {"x": {"datum": -0.88, "type": "quantitative"}, "y": {"field": "q1", "type": "quantitative"}, "y2": {"field": "q3"},
     "fill": {"condition": [
      {"test": "datum.station==='Kokernag'", "value": {"gradient": "linear", "x1": 0, "y1": 0, "x2": 0, "y2": 1, "stops": [{"offset": 0, "color": "#47DFB0"}, {"offset": 1, "color": "#000000"}]}},
      {"test": "datum.station==='Pahalgam'", "value": {"gradient": "linear", "x1": 0, "y1": 0, "x2": 0, "y2": 1, "stops": [{"offset": 0, "color": "#FF8C3F"}, {"offset": 1, "color": "#000000"}]}},
      {"test": "datum.station==='Srinagar'", "value": {"gradient": "linear", "x1": 0, "y1": 0, "x2": 0, "y2": 1, "stops": [{"offset": 0, "color": "#9A97CD"}, {"offset": 1, "color": "#000000"}]}},
      {"test": "datum.station==='Quazigund'", "value": {"gradient": "linear", "x1": 0, "y1": 0, "x2": 0, "y2": 1, "stops": [{"offset": 0, "color": "#EE62A6"}, {"offset": 1, "color": "#000000"}]}},
      {"test": "datum.station==='Gulmarg'", "value": {"gradient": "linear", "x1": 0, "y1": 0, "x2": 0, "y2": 1, "stops": [{"offset": 0, "color": "#9BE24D"}, {"offset": 1, "color": "#000000"}]}}
     ], "value": {"gradient": "linear", "x1": 0, "y1": 0, "x2": 0, "y2": 1, "stops": [{"offset": 0, "color": "#FFD042"}, {"offset": 1, "color": "#000000"}]}}}},
   {"transform": [{"filter": "datum.kind==='box'"}], "mark": {"type": "tick", "orient": "horizontal", "color": "#222222", "size": 31, "thickness": 1.5},
    "encoding": {"x": {"datum": -0.86, "type": "quantitative"}, "y": {"field": "med", "type": "quantitative"}}},
   {"transform": [{"filter": "datum.kind==='box'"}], "mark": {"type": "point", "shape": "square", "filled": false, "color": "#222222", "strokeWidth": 1, "size": 30, "opacity": 1},
    "encoding": {"x": {"datum": -0.89, "type": "quantitative"}, "y": {"field": "mean", "type": "quantitative"}}},
   {"transform": [{"filter": "datum.kind==='bin'"}], "mark": {"type": "bar", "opacity": 0.4, "orient": "horizontal"},
    "encoding": {"x": {"field": "w", "type": "quantitative", "stack": null}, "y": {"field": "y0", "type": "quantitative"}, "y2": {"field": "y1"},
     "color": {"field": "station", "type": "nominal", "scale": {"domain": ["Kokernag","Pahalgam","Srinagar","Quazigund","Gulmarg","Kupwara"], "range": ["#47DFB0","#FF8C3F","#9A97CD","#EE62A6","#9BE24D","#FFD042"]}, "legend": null}}},
   {"transform": [{"filter": "datum.kind==='curve'"}], "mark": {"type": "line", "strokeWidth": 2, "interpolate": "catmull-rom"},
    "encoding": {"x": {"field": "d", "type": "quantitative"}, "y": {"field": "v", "type": "quantitative"}, "order": {"field": "v", "type": "quantitative"},
     "color": {"field": "station", "type": "nominal", "legend": null}}},
   {"transform": [{"filter": "datum.kind==='box' && datum.station!=='Srinagar'"}], "mark": {"type": "text", "font": "DejaVu Serif", "fontWeight": "bold", "fontSize": 14, "baseline": "alphabetic", "dy": 26, "color": "#111111"},
    "encoding": {"x": {"datum": 0, "type": "quantitative"}, "y": {"datum": -30, "type": "quantitative"}, "text": {"field": "label", "type": "nominal"}}},
   {"transform": [{"filter": "datum.kind==='box' && datum.station==='Srinagar'"}], "mark": {"type": "text", "font": "DejaVu Sans", "fontSize": 15, "baseline": "alphabetic", "dy": 27, "color": "#111111"},
    "encoding": {"x": {"datum": 0, "type": "quantitative"}, "y": {"datum": -30, "type": "quantitative"}, "text": {"field": "label", "type": "nominal"}}}
  ]
 }
},
{
 "data": {"name": "p3"},
 "facet": {"column": {"field": "station", "type": "nominal", "sort": ["Kokernag","Pahalgam","Srinagar","Quazigund","Gulmarg","Kupwara"], "header": {"labels": false, "title": null}}},
 "spacing": 0,
 "bounds": "flush",
 "spec": {
  "width": 100, "height": 383,
  "layer": [
   {"transform": [{"filter": "datum.kind==='box'"}], "mark": {"type": "rule", "color": "#333333", "strokeWidth": 1.5},
    "encoding": {"x": {"datum": -0.86, "type": "quantitative", "scale": {"domain": [-2.083, 2.083], "nice": false, "zero": false, "padding": 0}, "axis": {"values": [0], "labels": false, "title": null, "tickSize": 6}},
     "y": {"field": "lo", "type": "quantitative", "scale": {"domain": [-10, 70], "nice": false, "zero": false, "padding": 0}, "axis": {"title": "Rainfall", "titleFontWeight": "normal", "titleFontSize": 14, "titlePadding": 20, "labelOverlap": false, "tickCount": 100, "values": [-10,-5,0,5,10,15,20,25,30,35,40,45,50,55,60,65,70], "labelExpr": "datum.value % 10 === 0 ? '' + datum.value : ''", "labelFontSize": {"condition": {"test": "datum.value % 10 !== 0", "value": 0}, "value": 14}, "tickSize": {"condition": {"test": "datum.value % 10 !== 0", "value": 4}, "value": 8}}},
     "y2": {"field": "hi"}}},
   {"transform": [{"filter": "datum.kind==='box'"}], "mark": {"type": "tick", "orient": "horizontal", "color": "#333333", "size": 15, "thickness": 1.5},
    "encoding": {"x": {"datum": -0.86, "type": "quantitative"}, "y": {"field": "hi", "type": "quantitative"}}},
   {"transform": [{"filter": "datum.kind==='box'"}], "mark": {"type": "rect", "stroke": "#333333", "strokeWidth": 1.5, "width": 30},
    "encoding": {"x": {"datum": -0.87, "type": "quantitative"}, "y": {"field": "q1", "type": "quantitative"}, "y2": {"field": "q3"},
     "fill": {"condition": [
      {"test": "datum.station==='Kokernag'", "value": {"gradient": "linear", "x1": 0, "y1": 0, "x2": 0, "y2": 1, "stops": [{"offset": 0, "color": "#47DFB0"}, {"offset": 1, "color": "#000000"}]}},
      {"test": "datum.station==='Pahalgam'", "value": {"gradient": "linear", "x1": 0, "y1": 0, "x2": 0, "y2": 1, "stops": [{"offset": 0, "color": "#FF8C3F"}, {"offset": 1, "color": "#000000"}]}},
      {"test": "datum.station==='Srinagar'", "value": {"gradient": "linear", "x1": 0, "y1": 0, "x2": 0, "y2": 1, "stops": [{"offset": 0, "color": "#9A97CD"}, {"offset": 1, "color": "#000000"}]}},
      {"test": "datum.station==='Quazigund'", "value": {"gradient": "linear", "x1": 0, "y1": 0, "x2": 0, "y2": 1, "stops": [{"offset": 0, "color": "#EE62A6"}, {"offset": 1, "color": "#000000"}]}},
      {"test": "datum.station==='Gulmarg'", "value": {"gradient": "linear", "x1": 0, "y1": 0, "x2": 0, "y2": 1, "stops": [{"offset": 0, "color": "#9BE24D"}, {"offset": 1, "color": "#000000"}]}}
     ], "value": {"gradient": "linear", "x1": 0, "y1": 0, "x2": 0, "y2": 1, "stops": [{"offset": 0, "color": "#FFD042"}, {"offset": 1, "color": "#000000"}]}}}},
   {"transform": [{"filter": "datum.kind==='box'"}], "mark": {"type": "point", "shape": "square", "filled": false, "color": "#222222", "strokeWidth": 1, "size": 30, "opacity": 1},
    "encoding": {"x": {"datum": -0.86, "type": "quantitative"}, "y": {"field": "mean", "type": "quantitative"}}},
   {"transform": [{"filter": "datum.kind==='bin'"}], "mark": {"type": "bar", "opacity": 0.35, "orient": "horizontal"},
    "encoding": {"x": {"field": "w", "type": "quantitative", "stack": null}, "y": {"field": "y0", "type": "quantitative"}, "y2": {"field": "y1"},
     "color": {"field": "station", "type": "nominal", "scale": {"domain": ["Kokernag","Pahalgam","Srinagar","Quazigund","Gulmarg","Kupwara"], "range": ["#47DFB0","#FF8C3F","#9A97CD","#EE62A6","#9BE24D","#FFD042"]}, "legend": null}}},
   {"transform": [{"filter": "datum.kind==='curve'"}], "mark": {"type": "line", "strokeWidth": 2, "interpolate": "catmull-rom"},
    "encoding": {"x": {"field": "d", "type": "quantitative"}, "y": {"field": "v", "type": "quantitative"}, "order": {"field": "v", "type": "quantitative"},
     "color": {"field": "station", "type": "nominal", "legend": null}}},
   {"transform": [{"filter": "datum.kind==='box' && datum.station!=='Srinagar'"}], "mark": {"type": "text", "font": "DejaVu Serif", "fontWeight": "bold", "fontSize": 14, "baseline": "alphabetic", "dy": 23, "color": "#111111"},
    "encoding": {"x": {"datum": 0, "type": "quantitative"}, "y": {"datum": -10, "type": "quantitative"}, "text": {"field": "label", "type": "nominal"}}},
   {"transform": [{"filter": "datum.kind==='box' && datum.station==='Srinagar'"}], "mark": {"type": "text", "font": "DejaVu Sans", "fontSize": 15, "baseline": "alphabetic", "dy": 30, "color": "#111111"},
    "encoding": {"x": {"datum": 0, "type": "quantitative"}, "y": {"datum": -10, "type": "quantitative"}, "text": {"field": "label", "type": "nominal"}}}
  ]
 }
}
],
"spacing": 60
}
